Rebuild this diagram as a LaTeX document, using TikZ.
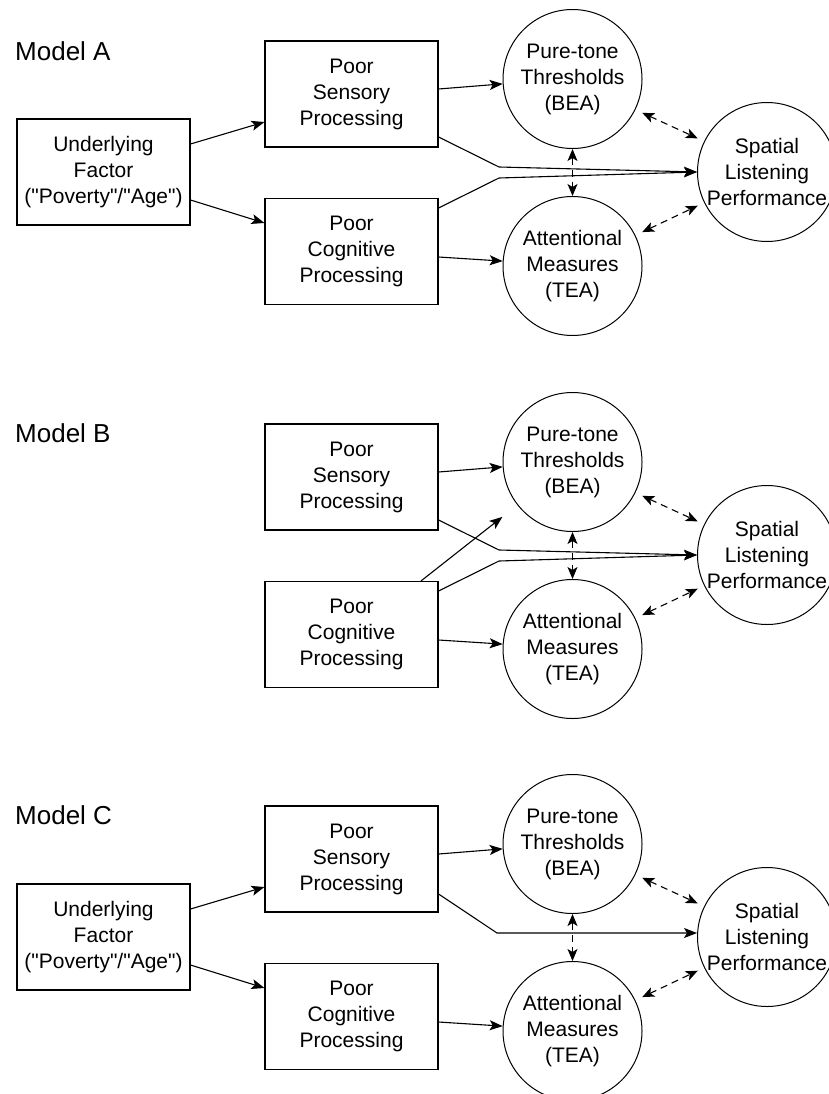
\documentclass[tikz,border=0pt]{standalone}
\usepackage{fontspec}
\setmainfont{Liberation Sans}
\usetikzlibrary{arrows.meta,calc}
\begin{document}
\begin{tikzpicture}[x=1pt,y=-1pt,
  every node/.style={font=\fontsize{21}{26}\selectfont, align=center, inner sep=0pt},
  box/.style={draw, line width=1.1pt, minimum width=173pt, minimum height=106pt},
  circ/.style={draw, circle, line width=1pt, minimum size=139pt, inner sep=-4pt},
  lbl/.style={font=\fontsize{26}{30}\selectfont, anchor=west},
  arr/.style={line width=1.1pt, -{Stealth[length=13pt,width=10pt,inset=3pt]}},
  darr/.style={line width=1.1pt, {Stealth[length=12pt,width=10pt,inset=3pt]}-{Stealth[length=12pt,width=10pt,inset=3pt]}, dash pattern=on 7pt off 5pt},
  gap/.style={shorten <=7.5pt, shorten >=7pt}
]
\useasboundingbox (0,0) rectangle (828,1094);

% ---------------- Model A ----------------
\node[lbl] (aL) at (15,51) {Model A};
\node[box] (aUF) at (103.5,172) {Underlying\\Factor\\(\textquotedbl Poverty\textquotedbl/\textquotedbl Age\textquotedbl)};
\node[box] (aPS) at (351.5,94) {Poor\\Sensory\\Processing};
\node[box] (aPC) at (351.5,251.5) {Poor\\Cognitive\\Processing};
\node[circ] (aPT) at (572.5,79) {Pure-tone\\Thresholds\\(BEA)};
\node[circ] (aAM) at (572.5,266) {Attentional\\Measures\\(TEA)};
\node[circ] (aSP) at (767,172) {Spatial\\Listening\\Performance};

\draw[arr] ($(aUF.east)+(0,-28)$) -- ($(aPS.west)+(0,28)$);
\draw[arr] ($(aUF.east)+(0,28)$) -- ($(aPC.west)+(0,-28.5)$);
\draw[arr] ($(aPS.east)+(0,-5)$) -- (aPT.184);
\draw[arr] ($(aPC.east)+(0,5.5)$) -- (aAM.176);
\draw[arr] ($(aPS.east)+(0,43)$) -- ($(aSP.west)+(-198,-5)$) -- (aSP.west);
\draw[arr] ($(aPC.east)+(0,-43.5)$) -- ($(aSP.west)+(-198,6)$) -- (aSP.west);
\draw[darr] (aPT.south) -- (aAM.north);
\draw[darr, gap] (aPT.334) -- (aSP.154);
\draw[darr, gap] (aAM.26) -- (aSP.206);

% ---------------- Model B ----------------
\begin{scope}[yshift=-383pt]
\node[lbl] (bL) at (15,50) {Model B};
\node[box] (bPS) at (351.5,94) {Poor\\Sensory\\Processing};
\node[box] (bPC) at (351.5,251.5) {Poor\\Cognitive\\Processing};
\node[circ] (bPT) at (572.5,79) {Pure-tone\\Thresholds\\(BEA)};
\node[circ] (bAM) at (572.5,266) {Attentional\\Measures\\(TEA)};
\node[circ] (bSP) at (767,172) {Spatial\\Listening\\Performance};
\end{scope}

\draw[arr] ($(bPS.east)+(0,-5)$) -- (bPT.184);
\draw[arr] ($(bPC.east)+(0,5.5)$) -- (bAM.176);
\draw[arr, shorten >=19pt] ($(bPC.north)+(69.5,0)$) -- (bPT.218);
\draw[arr] ($(bPS.east)+(0,43)$) -- ($(bSP.west)+(-198,-5)$) -- (bSP.west);
\draw[arr] ($(bPC.east)+(0,-43.5)$) -- ($(bSP.west)+(-198,6)$) -- (bSP.west);
\draw[darr] (bPT.south) -- (bAM.north);
\draw[darr, gap] (bPT.334) -- (bSP.154);
\draw[darr, gap] (bAM.26) -- (bSP.206);

% ---------------- Model C ----------------
\begin{scope}[yshift=-765pt]
\node[lbl] (cL) at (15,50) {Model C};
\node[box] (cUF) at (103.5,172) {Underlying\\Factor\\(\textquotedbl Poverty\textquotedbl/\textquotedbl Age\textquotedbl)};
\node[box] (cPS) at (351.5,94) {Poor\\Sensory\\Processing};
\node[box] (cPC) at (351.5,251.5) {Poor\\Cognitive\\Processing};
\node[circ] (cPT) at (572.5,79) {Pure-tone\\Thresholds\\(BEA)};
\node[circ] (cAM) at (572.5,266) {Attentional\\Measures\\(TEA)};
\node[circ] (cSP) at (767,172) {Spatial\\Listening\\Performance};
\end{scope}

\draw[arr] ($(cUF.east)+(0,-28)$) -- ($(cPS.west)+(0,28)$);
\draw[arr] ($(cUF.east)+(0,28)$) -- ($(cPC.west)+(0,-28.5)$);
\draw[arr] ($(cPS.east)+(0,-5)$) -- (cPT.184);
\draw[arr] ($(cPC.east)+(0,5.5)$) -- (cAM.176);
\draw[arr] ($(cPS.east)+(0,35)$) -- ($(cSP.west)+(-200,-4)$) -- ($(cSP.west)+(0,-4)$);
\draw[darr] (cPT.south) -- (cAM.north);
\draw[darr, gap] (cPT.334) -- (cSP.154);
\draw[darr, gap] (cAM.26) -- (cSP.206);
\end{tikzpicture}
\end{document}
